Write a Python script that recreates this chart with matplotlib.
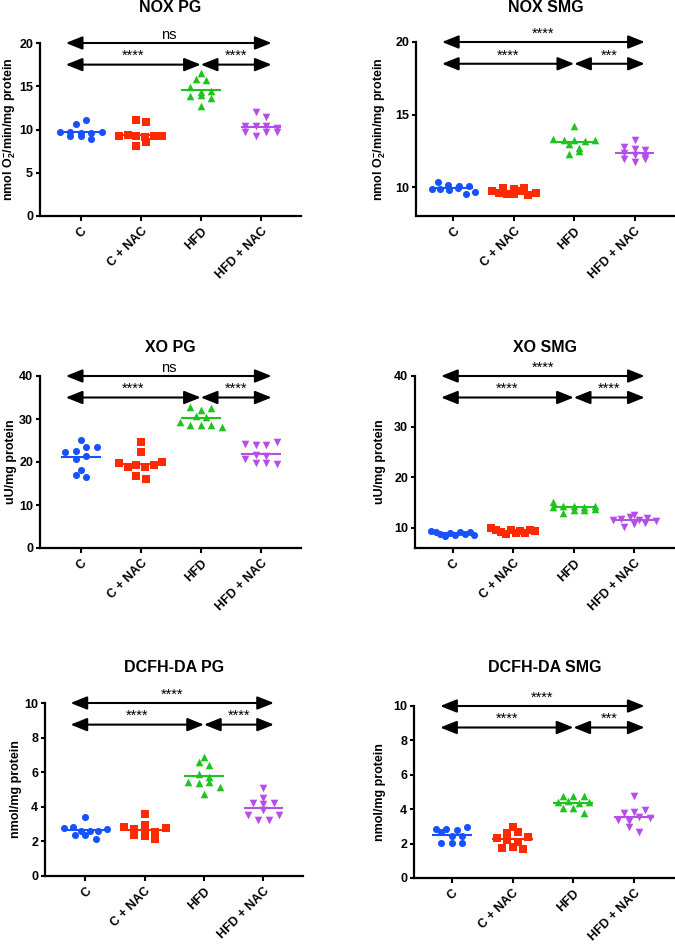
import numpy as np
import matplotlib
matplotlib.use('Agg')
import matplotlib.pyplot as plt
from matplotlib.transforms import blended_transform_factory

plt.rcParams['font.family'] = ['Liberation Sans', 'DejaVu Sans']
plt.rcParams['font.weight'] = 'bold'
plt.rcParams['mathtext.fontset'] = 'custom'
plt.rcParams['mathtext.rm'] = 'Liberation Sans:bold'
plt.rcParams['mathtext.bf'] = 'Liberation Sans:bold'

# groups and styling
groups = ['C', 'C + NAC', 'HFD', 'HFD + NAC']
colors = ['#1652ff', '#ff2a00', '#1fc31f', '#b54ee8']
markers = ['o', 's', '^', 'v']

# values (10 animals per group)
nox_pg = [
    [9.75, 9.2, 10.65, 11.05, 9.7, 9.2, 9.65, 8.85, 9.65, 9.75],
    [9.3, 9.4, 8.05, 8.5, 11.05, 10.85, 9.2, 9.1, 9.3, 9.2],
    [15.85, 15.75, 16.5, 14.9, 14.3, 13.9, 14.0, 13.6, 12.75, 14.5],
    [12.0, 11.45, 10.4, 10.45, 10.35, 10.2, 9.7, 9.2, 9.7, 9.75],
]
nox_smg = [
    [10.35, 9.85, 9.85, 9.8, 9.9, 10.15, 9.55, 10.05, 9.65, 10.1],
    [9.95, 9.7, 9.6, 9.85, 9.5, 9.9, 9.55, 9.75, 9.45, 9.6],
    [14.2, 13.0, 13.3, 13.25, 13.25, 13.2, 12.3, 12.45, 12.7, 13.25],
    [13.25, 12.75, 12.6, 11.9, 11.7, 12.35, 12.2, 11.95, 12.55, 12.1],
]
xo_pg = [
    [25.1, 22.3, 22.6, 23.4, 23.5, 20.7, 21.5, 18.2, 17.0, 16.4],
    [24.7, 22.4, 19.7, 18.9, 19.3, 18.9, 19.3, 16.8, 16.1, 20.1],
    [32.7, 32.2, 32.5, 30.7, 29.2, 28.7, 28.7, 28.6, 28.1, 30.5],
    [24.3, 23.9, 23.9, 24.6, 21.6, 21.3, 20.8, 19.7, 19.7, 19.6],
]
xo_smg = [
    [9.3, 9.1, 8.8, 8.3, 9.0, 8.6, 9.1, 8.7, 9.2, 8.6],
    [9.9, 9.5, 9.2, 8.8, 9.6, 9.0, 9.4, 8.9, 9.6, 9.3],
    [15.1, 14.4, 14.1, 14.4, 14.2, 13.0, 14.3, 13.6, 13.5, 13.8],
    [12.6, 11.6, 10.2, 10.7, 11.8, 12.2, 10.9, 11.5, 11.9, 11.4],
]
dcfh_pg = [
    [3.42, 2.8, 2.85, 2.6, 2.6, 2.62, 2.7, 2.35, 2.35, 2.13],
    [3.6, 2.95, 2.85, 2.7, 2.65, 2.55, 2.37, 2.33, 2.12, 2.75],
    [6.88, 6.6, 6.44, 5.9, 5.44, 5.38, 5.44, 5.15, 4.73, 5.73],
    [5.1, 4.5, 4.2, 4.15, 4.2, 3.5, 3.25, 3.25, 3.5, 3.8],
]
dcfh_smg = [
    [2.85, 2.85, 2.8, 2.95, 2.7, 2.45, 2.45, 2.05, 2.05, 2.05],
    [2.95, 2.6, 2.65, 2.3, 2.2, 2.12, 1.75, 1.78, 1.68, 2.4],
    [4.78, 4.75, 4.75, 4.4, 4.45, 4.35, 4.05, 4.05, 3.78, 4.4],
    [4.75, 3.8, 3.85, 3.95, 3.4, 3.3, 2.95, 2.7, 3.55, 3.5],
]

# significance labels: (C vs HFD+NAC, C vs HFD, HFD vs HFD+NAC)
sig_nox_pg = ['ns', '****', '****']
sig_nox_smg = ['****', '****', '***']
sig_xo_pg = ['ns', '****', '****']
sig_xo_smg = ['****', '****', '****']
sig_dcfh_pg = ['****', '****', '****']
sig_dcfh_smg = ['****', '****', '***']

nox_label = r'nmol O$_{2}^{-}$/min/mg protein'

panels = [
    dict(title='NOX PG', data=nox_pg, sig=sig_nox_pg, ylabel=nox_label,
         ylim=(0, 20), yticks=[0, 5, 10, 15, 20], box=(40, 301, 43, 216), tpad=35, lx=-0.084),
    dict(title='NOX SMG', data=nox_smg, sig=sig_nox_smg, ylabel=nox_label,
         ylim=(8, 20), yticks=[10, 15, 20], box=(416, 675, 42, 216), tpad=34, lx=-0.108),
    dict(title='XO PG', data=xo_pg, sig=sig_xo_pg, ylabel='uU/mg protein',
         ylim=(0, 40), yticks=[0, 10, 20, 30, 40], box=(40, 301, 376, 548), tpad=28, lx=-0.088),
    dict(title='XO SMG', data=xo_smg, sig=sig_xo_smg, ylabel='uU/mg protein',
         ylim=(6, 40), yticks=[10, 20, 30, 40], box=(415, 675, 376, 548), tpad=28, lx=-0.112),
    dict(title='DCFH-DA PG', data=dcfh_pg, sig=sig_dcfh_pg, ylabel='nmol/mg protein',
         ylim=(0, 10), yticks=[0, 2, 4, 6, 8, 10], box=(45, 303, 703, 876), tpad=35, lx=-0.088),
    dict(title='DCFH-DA SMG', data=dcfh_smg, sig=sig_dcfh_smg, ylabel='nmol/mg protein',
         ylim=(0, 10), yticks=[0, 2, 4, 6, 8, 10], box=(414, 675, 706, 878), tpad=38, lx=-0.107),
]

W, H = 675, 944
fig = plt.figure(figsize=(W / 100, H / 100), dpi=100)


def row_offsets(ax, vals, d, half_width=0.36):
    # group points of similar height into rows and spread each row sideways
    vals = np.asarray(vals, float)
    ypx = ax.transData.transform(np.column_stack([np.zeros(len(vals)), vals]))[:, 1]
    ppu = ax.transData.transform((1, 0))[0] - ax.transData.transform((0, 0))[0]
    order = np.argsort(ypx)
    rows, cur = [], [order[0]]
    for i in order[1:]:
        if ypx[i] - ypx[cur[0]] < d * 0.8:
            cur.append(i)
        else:
            rows.append(cur)
            cur = [i]
    rows.append(cur)
    xs = np.zeros(len(vals))
    for r in rows:
        n = len(r)
        if n == 1:
            continue
        step = min(d * 1.5, 2 * half_width * ppu / (n - 1))
        for j, i in enumerate(sorted(r)):
            xs[i] = (j - (n - 1) / 2) * step
    return xs / ppu


def sig_arrow(ax, x0, x1, yf, label):
    tr = blended_transform_factory(ax.transData, ax.transAxes)
    ax.annotate('', xy=(x1, yf), xytext=(x0, yf), xycoords=tr, textcoords=tr,
                arrowprops=dict(arrowstyle='<|-|>,head_length=1.0,head_width=0.4',
                                color='k', lw=1.5, shrinkA=0, shrinkB=0, mutation_scale=10),
                annotation_clip=False)
    ax.annotate(label, xy=((x0 + x1) / 2, yf), xycoords=tr, xytext=(0, 1),
                textcoords='offset points', ha='center', va='bottom',
                fontsize=10.5, fontweight='normal', annotation_clip=False)


for k, p in enumerate(panels):
    L, R, T, B = p['box']
    ax = fig.add_axes([L / W, 1 - B / H, (R - L) / W, (B - T) / H])
    left_col = k % 2 == 0
    ax.set_xlim(-0.68 if left_col else -0.62, 3.67)
    ax.set_ylim(*p['ylim'])

    for i, vals in enumerate(p['data']):
        xo = row_offsets(ax, vals, 7.0)
        s = 30 if markers[i] in '^v' else 26
        ax.scatter(i + xo, vals, s=s, marker=markers[i], color=colors[i],
                   linewidths=0, zorder=3, clip_on=False)
        ax.hlines(np.mean(vals), i - 0.33, i + 0.33, color=colors[i], lw=1.5, zorder=4)

    a0, a1 = (-0.25, 3.18) if left_col else (-0.19, 3.17)
    sig_arrow(ax, a0, a1, 1.0, p['sig'][0])
    sig_arrow(ax, a0, 2, 0.875, p['sig'][1])
    sig_arrow(ax, 2, a1, 0.875, p['sig'][2])

    ax.set_yticks(p['yticks'])
    ax.set_xticks(range(len(groups)))
    ax.set_xticklabels(groups, rotation=45, ha='right', rotation_mode='anchor',
                       fontsize=9, fontweight='bold')
    ax.tick_params(axis='y', labelsize=9, length=3, width=1.5, direction='out', pad=2)
    ax.tick_params(axis='x', length=3.5, width=1.5, direction='out', pad=3)
    for lab in ax.get_yticklabels():
        lab.set_fontweight('bold')
    ax.set_ylabel(p['ylabel'], fontsize=9, fontweight='bold')
    ax.yaxis.set_label_coords(p['lx'], 0.5)
    ax.spines['top'].set_visible(False)
    ax.spines['right'].set_visible(False)
    ax.spines['left'].set_linewidth(1.6)
    ax.spines['bottom'].set_linewidth(1.6)
    ax.annotate(p['title'], xy=(0.5, 1), xycoords='axes fraction',
                xytext=(0, p['tpad'] * 0.72), textcoords='offset points',
                ha='center', va='center', fontsize=11.5, fontweight='bold')

fig.savefig('out.png', dpi=100)
